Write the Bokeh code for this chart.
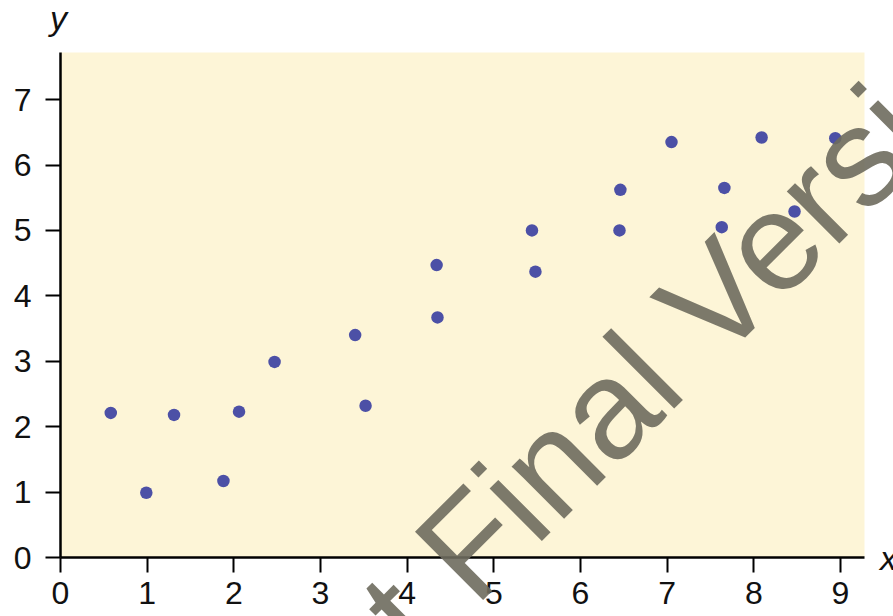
from bokeh.plotting import figure
from bokeh.models import ColumnDataSource, FixedTicker
from bokeh.core.properties import value
from bokeh.embed import file_html
from bokeh.resources import INLINE
import math

# --- data ---
x_vals = [0.58, 0.99, 1.31, 1.88, 2.06, 2.47, 3.40, 3.52, 4.34, 4.35,
          5.44, 5.48, 6.46, 6.45, 7.05, 7.66, 7.63, 8.09, 8.47, 8.94]
y_vals = [2.21, 0.99, 2.18, 1.17, 2.23, 2.99, 3.40, 2.32, 4.47, 3.67,
          5.00, 4.37, 5.62, 5.00, 6.35, 5.65, 5.05, 6.42, 5.29, 6.41]
x_ticks = [0, 1, 2, 3, 4, 5, 6, 7, 8, 9]
y_ticks = [0, 1, 2, 3, 4, 5, 6, 7]
axis_names = ["y", "x"]
watermark = "Not Final Version"

FONT = "Liberation Sans"
CREAM = "#FDF5D7"
DOT = "#4C50A6"

p = figure(width=893, height=616, output_backend="svg", toolbar_location=None,
           x_range=(0, 9.277), y_range=(0, 7.72),
           min_border_left=60, min_border_right=29,
           min_border_top=52, min_border_bottom=59)

p.background_fill_color = CREAM
p.border_fill_color = "white"
p.outline_line_color = None
p.xgrid.visible = False
p.ygrid.visible = False

src = ColumnDataSource(dict(x=x_vals, y=y_vals))
p.scatter("x", "y", source=src, size=12.5, fill_color=DOT, line_color=None)

for ax in (p.xaxis[0], p.yaxis[0]):
    ax.axis_line_color = "black"
    ax.axis_line_width = 2.5
    ax.major_tick_line_color = "black"
    ax.major_tick_line_width = 2
    ax.major_tick_out = 15
    ax.major_tick_in = 0
    ax.minor_tick_line_color = None
    ax.major_label_text_font = FONT
    ax.major_label_text_font_size = "32px"
    ax.major_label_text_color = "#111111"

p.xaxis[0].ticker = FixedTicker(ticks=x_ticks)
p.yaxis[0].ticker = FixedTicker(ticks=y_ticks)
p.xaxis[0].major_label_standoff = 9
p.yaxis[0].major_label_standoff = 14

# axis name labels (italic), drawn at overlay level so they are not clipped to the frame
name_src = ColumnDataSource(dict(x=[-0.12, 9.455], y=[8.24, 0.0], text=axis_names))
r_names = p.text(x="x", y="y", text="text", source=name_src,
                 text_font=value(FONT), text_font_style="italic",
                 text_font_size="34px", text_color="#111111",
                 text_align="left", text_baseline="alphabetic")
r_names.level = "overlay"

# watermark
wm_src = ColumnDataSource(dict(x=[6.64], y=[2.74], text=[watermark]))
r_wm = p.text(x="x", y="y", text="text", source=wm_src,
              text_font=value(FONT), text_font_size="140px",
              text_color="#6e6c5e", text_alpha=0.9, angle=math.pi / 4,
              text_align="center", text_baseline="alphabetic")
r_wm.level = "overlay"

open("out.html", "w").write(file_html(p, INLINE))
